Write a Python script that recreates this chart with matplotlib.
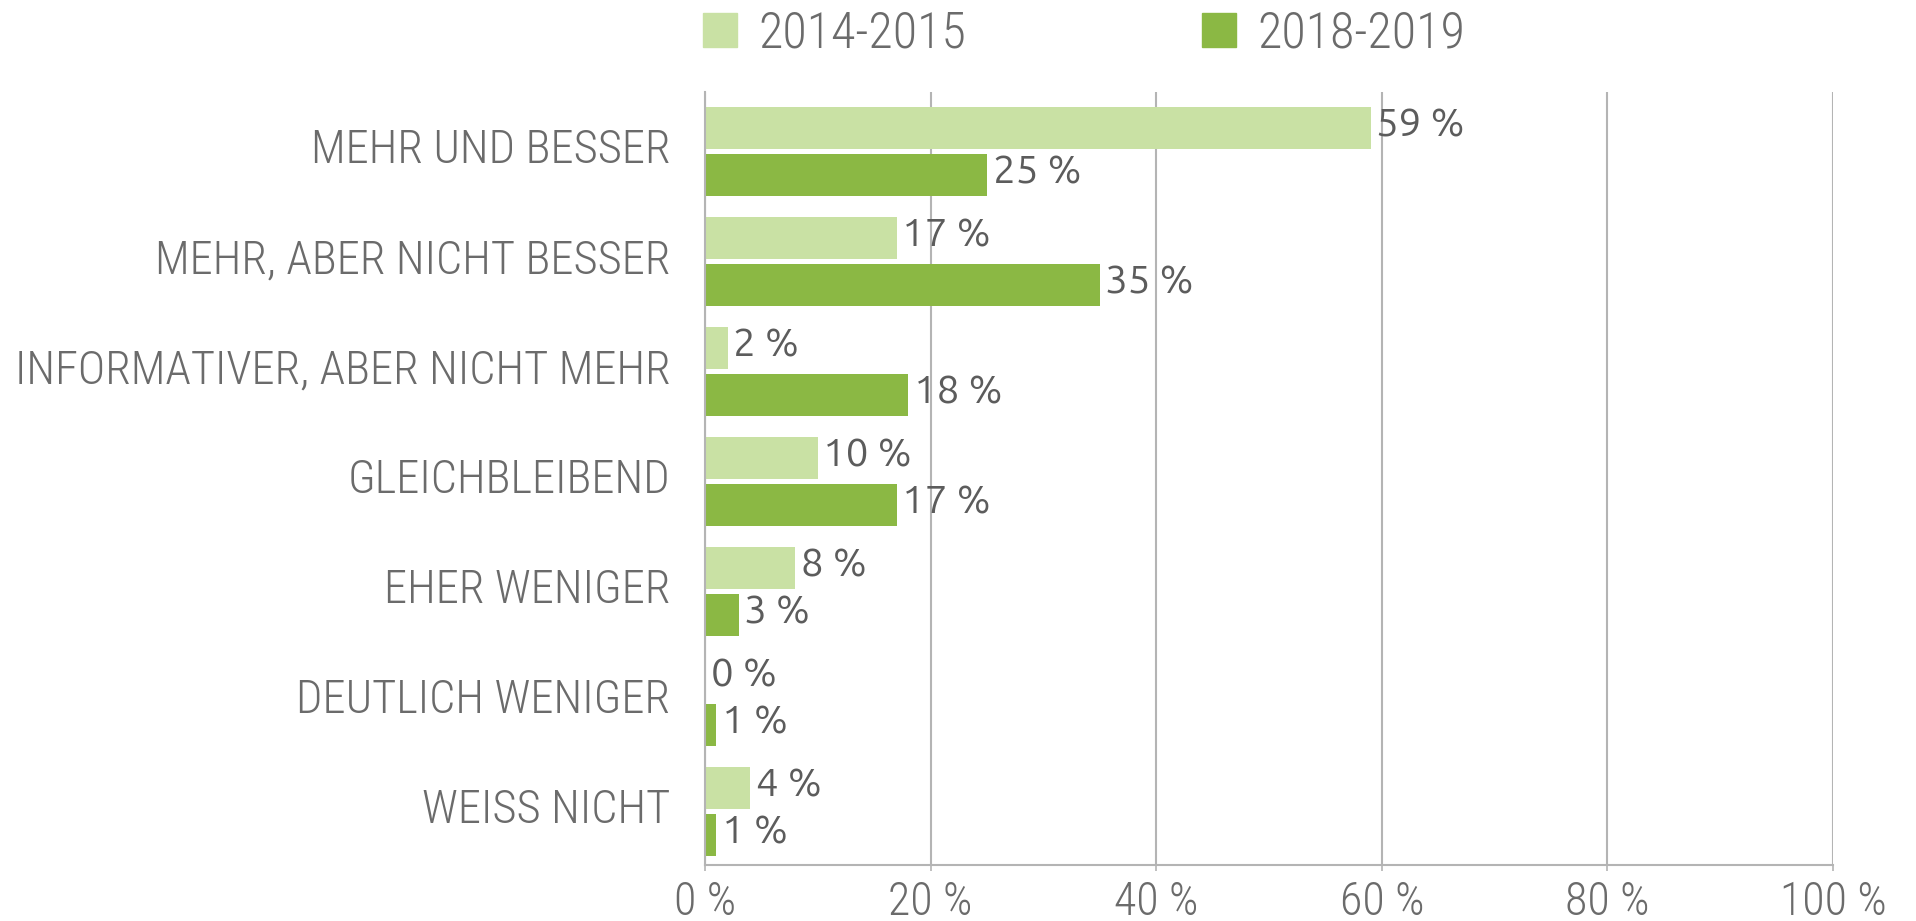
import matplotlib
matplotlib.use("Agg")
import matplotlib.pyplot as plt
from matplotlib.patches import Patch
import numpy as np

# survey answers, top to bottom
categories = ["MEHR UND BESSER", "MEHR, ABER NICHT BESSER",
              "INFORMATIVER, ABER NICHT MEHR", "GLEICHBLEIBEND",
              "EHER WENIGER", "DEUTLICH WENIGER", "WEISS NICHT"]
series_names = ["2014-2015", "2018-2019"]
vals_1415 = [59, 17, 2, 10, 8, 0, 4]
vals_1819 = [25, 35, 18, 17, 3, 1, 1]
x_ticks = [0, 20, 40, 60, 80, 100]
x_labels = ["0 %", "20 %", "40 %", "60 %", "80 %", "100 %"]

light = "#c9e1a4"
dark = "#8bb844"
txt = "#6b6b6b"
grid_c = "#b4b4b4"
lab_font = ["Roboto Condensed", "DejaVu Sans"]
val_font = ["Ubuntu", "DejaVu Sans"]

plt.rcParams['font.family'] = lab_font
plt.rcParams['font.weight'] = 300

fig = plt.figure(figsize=(19.16, 9.21), dpi=100)
ax = fig.add_axes([705/1916, 1 - 865/921, (1833 - 705)/1916, (865 - 92)/921])

y = np.arange(len(categories))
h = 0.383
off = 0.214
b1 = ax.barh(y - off, vals_1415, height=h, color=light, zorder=2)
b2 = ax.barh(y + off, vals_1819, height=h, color=dark, zorder=2)

for bars, vals in ((b1, vals_1415), (b2, vals_1819)):
    for bar, v in zip(bars, vals):
        ax.text(bar.get_width() + 0.5, bar.get_y() + bar.get_height() / 2 - 0.03,
                f"{v} %", va="center", ha="left", fontsize=29, color="#5c5c5c",
                family=val_font, weight="normal", zorder=3)

ax.set_xlim(0, 100)
ax.set_ylim(len(categories) - 0.51, -0.54)

ax.set_xticks(x_ticks)
ax.set_xticklabels(x_labels, fontsize=33, color=txt)
ax.set_yticks(y - 0.05)
ax.set_yticklabels(categories, fontsize=33.5, color=txt)
ax.tick_params(axis="y", length=0, pad=25)
ax.tick_params(axis="x", length=4, width=1.2, color=grid_c, pad=7)

ax.grid(axis="x", color=grid_c, linewidth=1.5, zorder=0)
ax.set_axisbelow(True)
for s in ("top", "right"):
    ax.spines[s].set_visible(False)
ax.spines["left"].set_color(grid_c)
ax.spines["left"].set_linewidth(1.5)
ax.spines["bottom"].set_color(grid_c)
ax.spines["bottom"].set_linewidth(1.5)

handles = [Patch(color=light, label=series_names[0]),
           Patch(color=dark, label=series_names[1])]
leg = ax.legend(handles=handles, loc="lower left", bbox_to_anchor=(-0.002, 1.045),
                ncol=2, frameon=False, fontsize=36, handlelength=0.68,
                handleheight=0.68, handletextpad=0.44, columnspacing=4.7,
                borderaxespad=0, borderpad=0)
for t in leg.get_texts():
    t.set_color(txt)

fig.savefig("out.png", dpi=100)
